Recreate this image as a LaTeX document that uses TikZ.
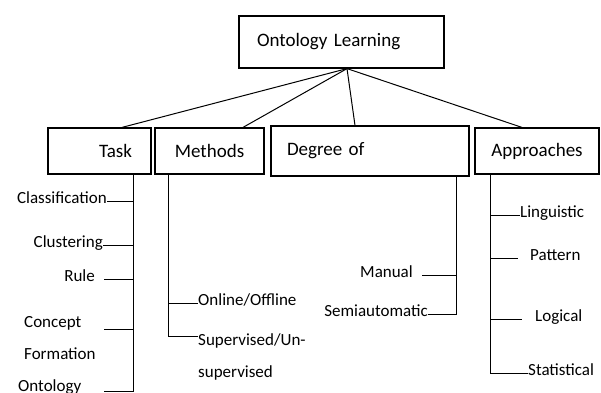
\documentclass[tikz,border=0pt]{standalone}
\usepackage{fontspec}
\setmainfont{Carlito}
\begin{document}
\begin{tikzpicture}[x=1pt, y=-1pt,
    box/.style={draw, line width=1.2pt, inner sep=0pt, font=\fontsize{19}{22}\selectfont},
    leaf/.style={inner sep=0pt, font=\fontsize{17}{32}\selectfont},
    branch/.style={line width=1pt}]

    \useasboundingbox (0,0) rectangle (601,392);

    %% Boxes

    % Root
    \node[box, minimum width=205, minimum height=52, text width=169pt, inner xsep=18pt, align=left] (root) at (341.5,42) {Ontology Learning};

    % Second level
    \node[box, minimum width=103, minimum height=46, text width=65pt, inner xsep=19pt, align=right] (task) at (99.5,151) {Task};
    \node[box, minimum width=109, minimum height=46] (methods) at (209.5,151) {Methods};
    \node[box, minimum width=198, minimum height=50, text width=166pt, inner xsep=16pt, align=left] (degree) at (370,151) {Degree of};
    \node[box, minimum width=124, minimum height=46] (approaches) at (537,151) {Approaches};

    % Links from the root
    \coordinate (hub) at ([xshift=5.5pt]root.south);
    \draw[branch] (hub) -- ([xshift=22.5pt]task.north);
    \draw[branch] (hub) -- ([xshift=33.5pt]methods.north);
    \draw[branch] (hub) -- ([xshift=-15pt]degree.north);
    \draw[branch] (hub) -- ([xshift=-15pt]approaches.north);

    %% Task
    \coordinate (taskend) at (133,392);
    \coordinate (tasktick) at (104,0);
    \draw[branch] (taskend |- task.south) -- (taskend);

    \node[leaf, anchor=mid east] (classification) at (107,201) {Classification};
    \draw[branch] (classification.mid east) -- (classification.mid east -| taskend);

    \node[leaf, anchor=mid east] (clustering) at (103,245) {Clustering};
    \draw[branch] (clustering.mid east) -- (clustering.mid east -| taskend);

    \node[leaf, anchor=mid east] (rule) at (95,279) {Rule};
    \draw[branch] (tasktick |- rule.mid east) -- (taskend |- rule.mid east);

    % base of a two-line label is its last line
    \node[leaf, anchor=base west, align=left] (concept) at (24,359) {Concept\\Formation};
    \coordinate (conceptline) at ([yshift=30pt]concept.base);
    \draw[branch] (tasktick |- conceptline) -- (taskend |- conceptline);

    \node[leaf, anchor=base west] (ontology) at (18,391) {Ontology};
    \draw[branch] (tasktick |- ontology.base) -- (taskend |- ontology.base);

    %% Methods
    \coordinate (methodsend) at (168,336);
    \draw[branch] (methodsend |- methods.south) -- (methodsend);

    \node[leaf, anchor=mid west] (online) at (198,303) {Online/Offline};
    \draw[branch] (online.mid west -| methodsend) -- (online.mid west);

    \node[leaf, anchor=base west, align=left] (supervised) at (198,377) {Supervised/Un-\\supervised};
    \draw[branch] (methodsend) -- (methodsend -| supervised.west);

    %% Degree of
    \coordinate (degreeend) at (456,315);
    \draw[branch] (degreeend |- degree.south) -- (degreeend);

    \node[leaf, anchor=mid east] (manual) at (413,275) {Manual};
    \draw[branch] ([xshift=9pt]manual.mid east) -- (manual.mid east -| degreeend);

    \node[leaf, anchor=mid east] (semiautomatic) at (428,314) {Semiautomatic};
    \draw[branch] (semiautomatic.mid east) -- (semiautomatic.mid east -| degreeend);

    %% Approaches
    \coordinate (approachesend) at (490,373);
    \draw[branch] (approachesend |- approaches.south) -- (approachesend);

    \node[leaf, anchor=mid west] (linguistic) at (520,215) {Linguistic};
    \draw[branch] (linguistic.mid west -| approachesend) -- (linguistic.mid west);

    \node[leaf, anchor=mid west] (pattern) at (530,258) {Pattern};
    \draw[branch] (pattern.mid west -| approachesend) -- ([xshift=-12pt]pattern.mid west);

    \node[leaf, anchor=mid west] (logical) at (535,319) {Logical};
    \draw[branch] (logical.mid west -| approachesend) -- ([xshift=-13pt]logical.mid west);

    \node[leaf, anchor=mid west] (statistical) at (528,373) {Statistical};
    \draw[branch] (statistical.mid west -| approachesend) -- (statistical.mid west);

\end{tikzpicture}
\end{document}
